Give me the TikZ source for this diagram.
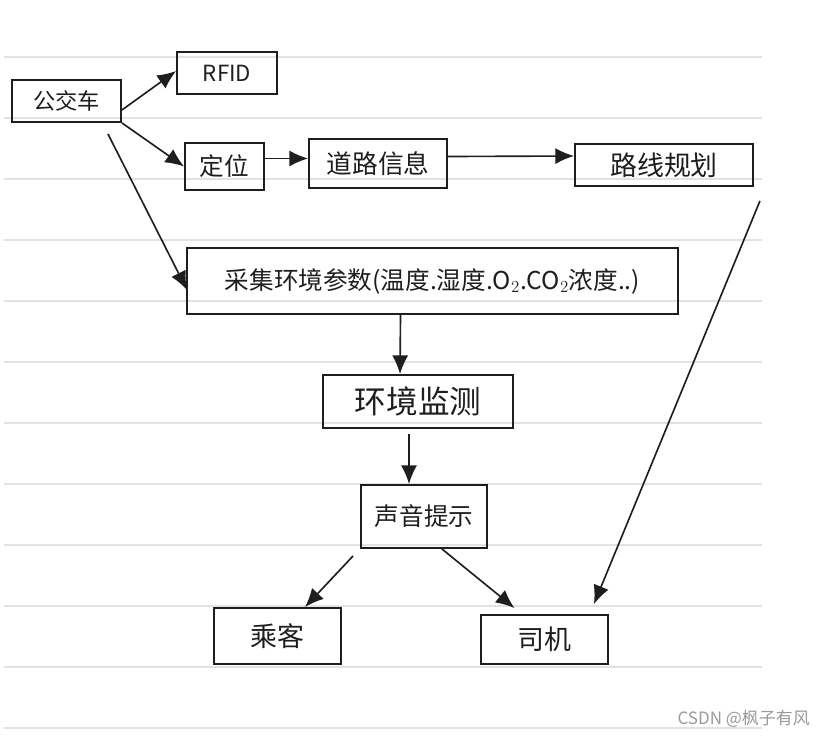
\documentclass[tikz,border=0pt]{standalone}
\usepackage{fontspec}
\setmainfont{Noto Sans CJK SC}
\usetikzlibrary{positioning, arrows.meta, calc}
\definecolor{ink}{HTML}{1E1E1E}
\definecolor{rule}{HTML}{E2E2E2}
\definecolor{mark}{HTML}{9A9A9A}
\tikzset{
  every node/.style = {text=ink},
  hwbox/.style   = {draw=ink, line width=1.6pt, inner sep=0pt, align=center},
  hwgo/.style    = {-{Latex[length=5.6mm,width=4.8mm]}, draw=ink, line width=1.4pt},
  ruled/.style   = {draw=rule, line width=1.4pt},
  wmark/.style   = {text=mark, font=\fontsize{14.5}{16}\selectfont, anchor=east},
}
\newcommand{\hwsize}[1]{\fontsize{#1}{#1}\selectfont}

\begin{document}
\begin{tikzpicture}[x=0.3mm, y=-0.3mm]
\useasboundingbox (0,0) rectangle (829,736);

% ruled paper
\foreach \yy in {57,118,...,729}
  \draw[ruled] (4,\yy) -- (762,\yy);

\node[hwbox, minimum width=109*0.3mm, minimum height=42*0.3mm, font=\hwsize{19}] (bus) at (66.5,101) {公交车};
\node[hwbox, minimum width=100*0.3mm, minimum height=42*0.3mm, font=\hwsize{19}] (rfid) at (227,73) {RFID};
\node[hwbox, minimum width=79*0.3mm, minimum height=47*0.3mm, font=\hwsize{21}] (loc) at (224.5,166.5) {定位};
\node[hwbox, minimum width=138*0.3mm, minimum height=49*0.3mm, font=\hwsize{22}] (road) at (378,163.5) {道路信息};
\node[hwbox, minimum width=178*0.3mm, minimum height=42*0.3mm, font=\hwsize{23}] (route) at (664,165) {路线规划};
\node[hwbox, minimum width=491*0.3mm, minimum height=66*0.3mm, font=\hwsize{21}] (env) at (432.5,281)
  {采集环境参数(温度.湿度.O$_2$.CO$_2$浓度..)};
\node[hwbox, minimum width=190*0.3mm, minimum height=53*0.3mm, font=\hwsize{27}] (mon) at (418,401.5) {环境监测};
\node[hwbox, minimum width=126*0.3mm, minimum height=63*0.3mm, font=\hwsize{21}] (sound) at (424,516.5) {声音提示};
\node[hwbox, minimum width=127*0.3mm, minimum height=56*0.3mm, font=\hwsize{23}] (pass) at (277.5,636) {乘客};
\node[hwbox, minimum width=127*0.3mm, minimum height=49*0.3mm, font=\hwsize{23}] (drv) at (544.5,639.5) {司机};

\draw[hwgo] ($(bus.east)+(0,9)$) -- ($(rfid.west)+(0,-2)$);
\draw[hwgo] (bus.south east) -- (loc.west);
\draw[hwgo] ($(bus.south east)+(-14,11)$) -- ($(env.west)+(1,9)$);
\draw[hwgo] ($(loc.east)+(0,-8)$) -- ($(road.west)+(0,-5)$);
\draw[hwgo] ($(road.east)+(0,-7)$) -- ($(route.west)+(0,-9)$);
\draw[hwgo] ($(env.south)+(-32,0)$) -- ($(mon.north)+(-18,0)$);
\draw[hwgo] ($(mon.south)+(-9,5)$) -- ($(sound.north)+(-15,0)$);
\draw[hwgo] ($(sound.south west)+(-7,7)$) -- ($(pass.north)+(27.5,0)$);
\draw[hwgo] ($(sound.south east)+(-46,0)$) -- ($(drv.north)+(-30,-6)$);
\draw[hwgo] ($(route.south east)+(6,14)$) -- ($(drv.north east)+(-15,-10)$);

\node[wmark] (credit) at (814,719) {CSDN @枫子有风};
\end{tikzpicture}
\end{document}
